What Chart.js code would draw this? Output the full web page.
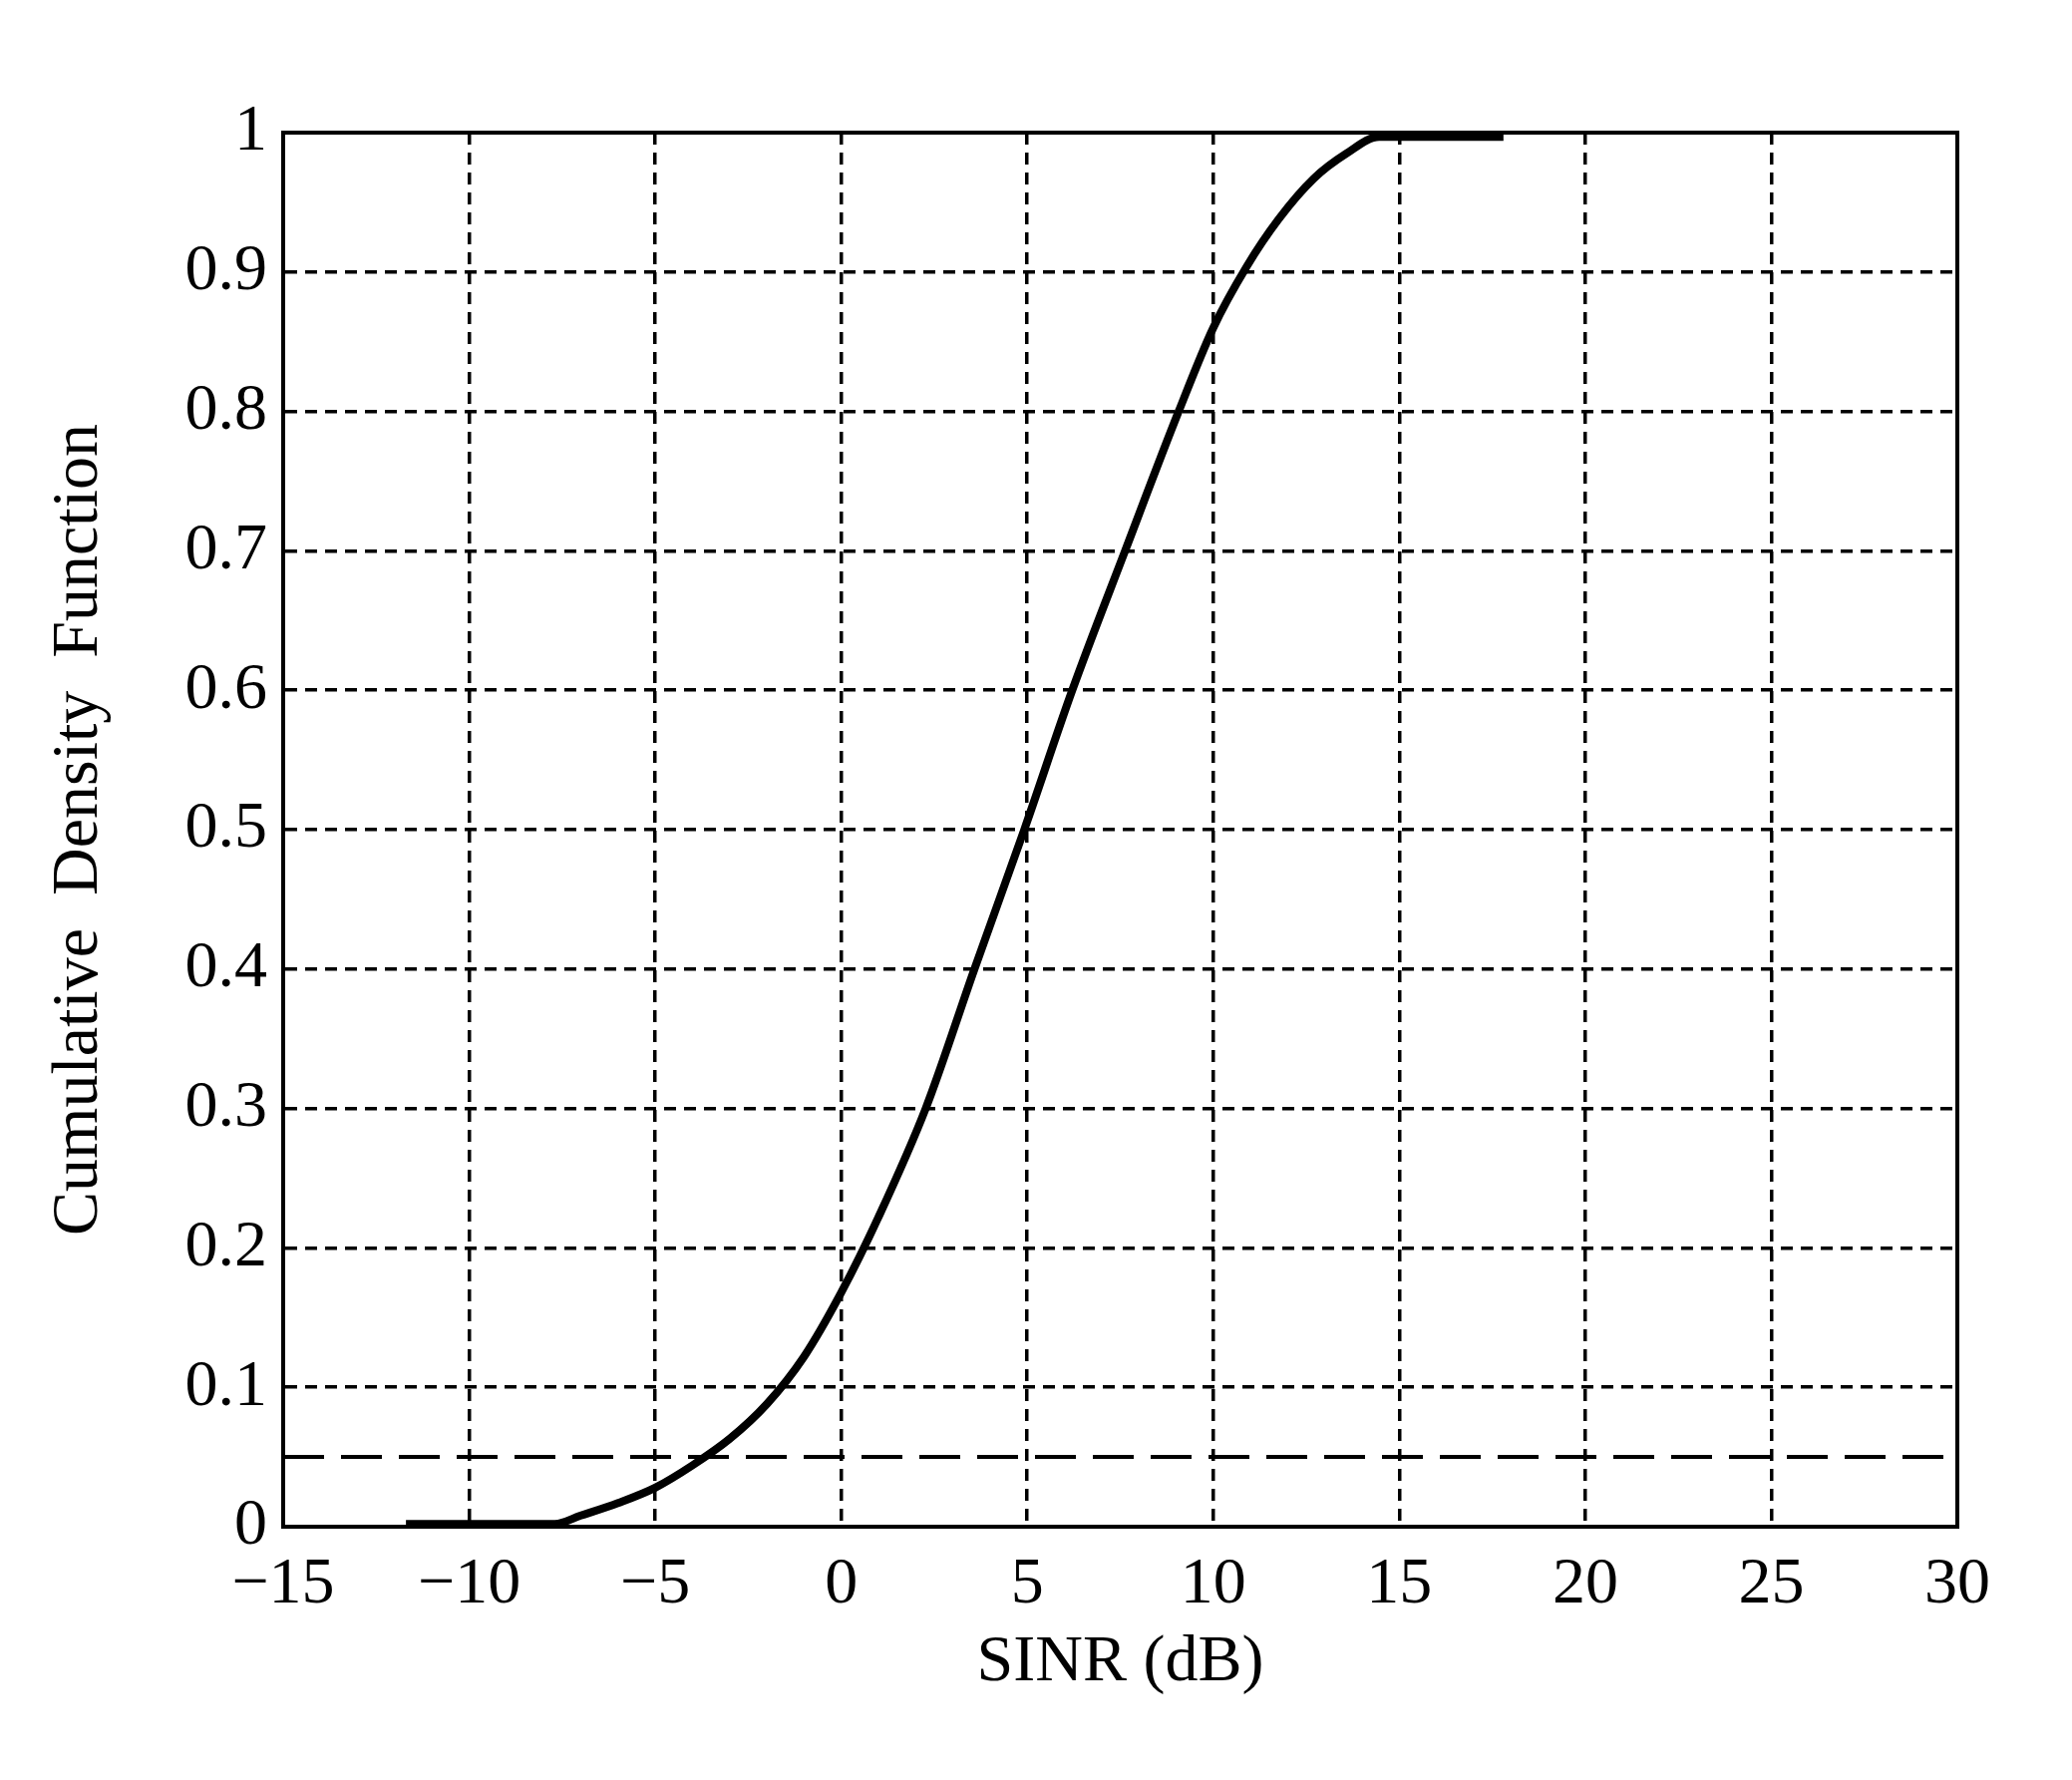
<!DOCTYPE html>
<html>
<head>
<meta charset="utf-8">
<script src="https://cdn.jsdelivr.net/npm/chart.js@4.4.1/dist/chart.umd.min.js"></script>
<style>
  html, body { margin: 0; padding: 0; background: #fff; }
  canvas { display: block; }
</style>
</head>
<body>
<canvas id="cdfChart" width="2078" height="1785"></canvas>
<script>
// SINR CDF curve
const sinrDb = [-11.7, -7.7, -7.0, -6.0, -5.0, -4.0, -3.0, -2.0, -1.0, 0, 1.0, 2.27, 3.58, 4.92, 6.21, 7.63, 9.07, 10, 10.9, 11.76, 12.7, 13.58, 14.46, 17.8];
const cdfVals = [0.002, 0.002, 0.008, 0.017, 0.028, 0.044, 0.063, 0.088, 0.122, 0.168, 0.222, 0.3, 0.4, 0.5, 0.6, 0.7, 0.8, 0.86, 0.904, 0.938, 0.967, 0.985, 0.997, 0.997];

// 5% reference line
const thresholdX = [-15, 30];
const thresholdY = [0.05, 0.05];

const xTickLabels = ['\u221215', '\u221210', '\u22125', '0', '5', '10', '15', '20', '25', '30'];
const yTickLabels = ['0', '0.1', '0.2', '0.3', '0.4', '0.5', '0.6', '0.7', '0.8', '0.9', '1'];

const fontFamily = '"Liberation Serif", "Times New Roman", serif';
const tickFont = { family: fontFamily, size: 66, lineHeight: 1 };

// solid box around the plot area
const frame = {
  id: 'frame',
  beforeDatasetsDraw(chart) {
    const a = chart.chartArea;
    const c = chart.ctx;
    c.save();
    c.strokeStyle = '#000';
    c.lineWidth = 4;
    c.strokeRect(a.left, a.top, a.right - a.left, a.bottom - a.top);
    c.restore();
  }
};

new Chart(document.getElementById('cdfChart'), {
  type: 'line',
  data: {
    datasets: [
      {
        data: sinrDb.map((x, i) => ({ x: x, y: cdfVals[i] })),
        borderColor: '#000',
        borderWidth: 8,
        pointRadius: 0,
        cubicInterpolationMode: 'monotone',
        fill: false,
        clip: 0
      },
      {
        data: thresholdX.map((x, i) => ({ x: x, y: thresholdY[i] })),
        borderColor: '#000',
        borderWidth: 4,
        borderDash: [41, 17],
        pointRadius: 0,
        fill: false,
        clip: 0
      }
    ]
  },
  options: {
    responsive: false,
    animation: false,
    devicePixelRatio: 1,
    layout: { padding: { left: 0, top: 133, right: 115, bottom: 0 } },
    plugins: { legend: { display: false }, tooltip: { enabled: false } },
    scales: {
      x: {
        type: 'linear',
        min: -15,
        max: 30,
        afterFit(s) { s.height = 254; },
        ticks: {
          stepSize: 5,
          autoSkip: false,
          maxRotation: 0,
          padding: 26,
          color: '#000',
          font: tickFont,
          callback: (v, i) => xTickLabels[i]
        },
        grid: { color: '#000', lineWidth: 3.5, drawTicks: false },
        border: { display: true, color: '#000', width: 4, dash: [12, 8] },
        title: {
          display: true,
          text: 'SINR (dB)',
          color: '#000',
          font: tickFont,
          padding: { top: 0, bottom: 84 }
        }
      },
      y: {
        min: 0,
        max: 1,
        afterFit(s) { s.width = 284; },
        ticks: {
          stepSize: 0.1,
          padding: 16,
          color: '#000',
          font: tickFont,
          callback: (v, i) => yTickLabels[i]
        },
        grid: { color: '#000', lineWidth: 3.5, drawTicks: false },
        border: { display: true, color: '#000', width: 4, dash: [12, 8] },
        title: {
          display: true,
          text: 'Cumulative  Density  Function',
          color: '#000',
          font: tickFont,
          padding: { top: 47, bottom: 0 }
        }
      }
    }
  },
  plugins: [frame]
});
</script>
</body>
</html>
